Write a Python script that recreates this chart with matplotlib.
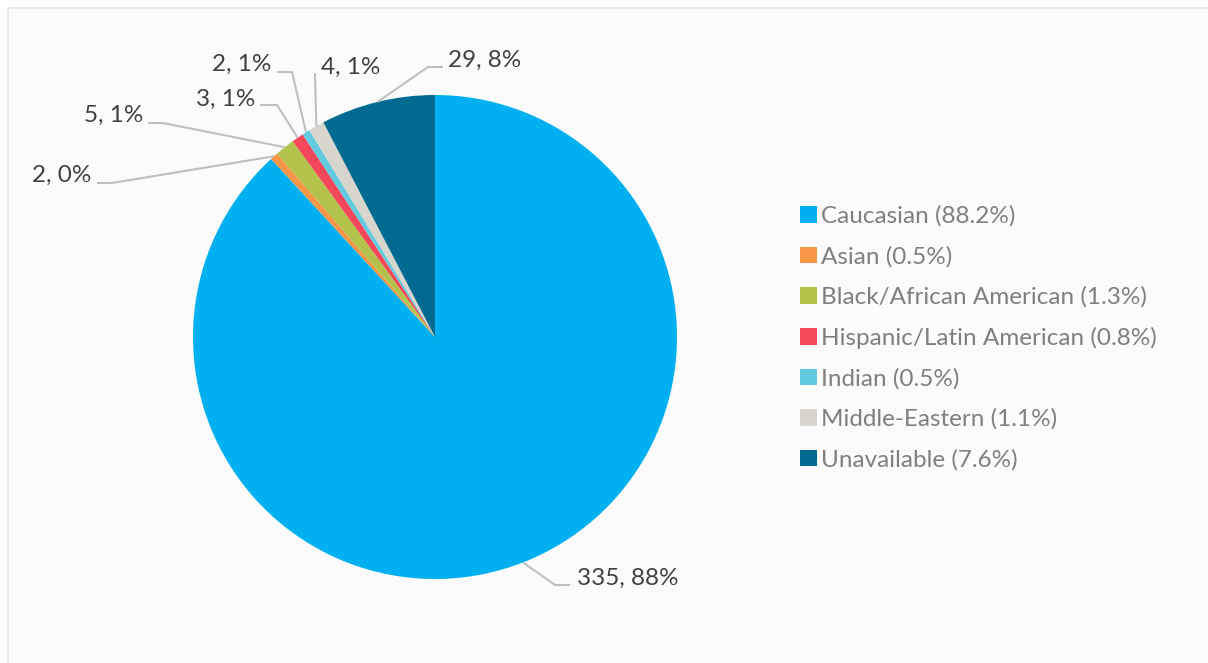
import matplotlib.pyplot as plt
from matplotlib.patches import Rectangle
import numpy as np

plt.rcParams['font.family'] = ['Lato', 'DejaVu Sans']

W, H = 1208, 663

groups = ["Caucasian", "Asian", "Black/African American", "Hispanic/Latin American",
          "Indian", "Middle-Eastern", "Unavailable"]
counts = [335, 2, 5, 3, 2, 4, 29]
shown_pct = [88, 0, 1, 1, 1, 1, 8]
colors = ["#00B0F0", "#F79646", "#B3C24A", "#F5475A", "#63CBDF", "#D8D5CC", "#006A90"]

# label placement in pixels from top-left: text left x, baseline y, elbow point (None = straight)
label_pos = [
    (577, 585, (555, 585)),
    (32, 182, (112, 183)),
    (84, 122, (163, 123)),
    (196, 106, (277, 105)),
    (212, 71, (292, 72)),
    (321, 74, None),
    (448, 67, (428, 67)),
]
line_end_x = [570, 97, 148, 260, 277, 315, 443]

cx, cy, r = 435, 337, 242


def fy(y):
    return H - y


fig = plt.figure(figsize=(W / 100, H / 100), dpi=100)
fig.patches.append(Rectangle((8 / W, -0.01), 1.0, (H - 8) / H + 0.01,
                             transform=fig.transFigure, facecolor="#FBFBFB",
                             edgecolor="#E6E6E6", linewidth=1.2, zorder=-1))

ax = fig.add_axes([0, 0, 1, 1])
ax.patch.set_alpha(0)
wedges, _ = ax.pie(counts, colors=colors, startangle=90, counterclock=False,
                   center=(cx, fy(cy)), radius=r,
                   wedgeprops=dict(linewidth=0))
ax.set_xlim(0, W)
ax.set_ylim(0, H)
ax.axis("off")

# data labels with leader lines
total = sum(counts)
for w, c, p, (tx, ty, elbow), ex in zip(wedges, counts, shown_pct, label_pos, line_end_x):
    mid = np.deg2rad((w.theta1 + w.theta2) / 2)
    rx = cx + r * np.cos(mid)
    ry = fy(cy) + r * np.sin(mid)
    xs, ys = [rx], [ry]
    if elbow is not None:
        xs.append(elbow[0])
        ys.append(fy(elbow[1]))
        xs.append(ex)
        ys.append(fy(elbow[1]))
    else:
        xs.append(ex)
        ys.append(fy(ty - 1))
    ax.plot(xs, ys, color="#BFBFBF", linewidth=1.5, solid_capstyle="butt", zorder=3)
    ax.text(tx, fy(ty), f"{c}, {p}%", fontsize=17.5, color="#404040",
            ha="left", va="baseline")

legend_labels = [f"{g} ({c / total * 100:.1f}%)" for g, c in zip(groups, counts)]
leg = ax.legend(wedges, legend_labels, loc="center left",
                bbox_to_anchor=(800 / W, 1 - 338 / H), frameon=False,
                fontsize=17.5, labelcolor="#7F7F7F", handlelength=0.68,
                handleheight=0.68, handletextpad=0.18, labelspacing=0.78,
                borderpad=0, borderaxespad=0)

fig.savefig("out.png", dpi=100)
